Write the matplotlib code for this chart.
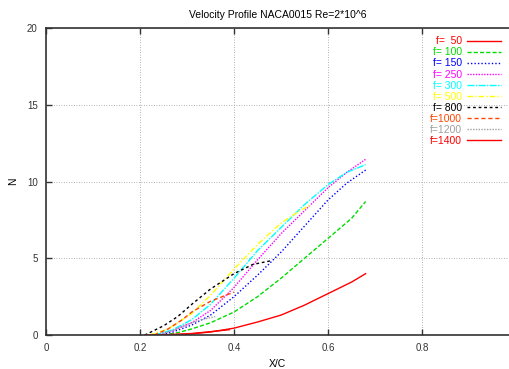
import matplotlib
matplotlib.use("Agg")
from matplotlib import pyplot as plt

# values (X/C, N)
labels = ["f=  50", "f= 100", "f= 150", "f= 250", "f= 300",
          "f= 500", "f= 800", "f=1000", "f=1200", "f=1400"]
colors = ["#ff0000", "#00dd00", "#0000ff", "#ff00ff", "#00ffff",
          "#ffff00", "#000000", "#ff4500", "#a0a0a0", "#ff0000"]
styles = ["-", (0, (3, 1.5)), (0, (1, 1.5)), (0, (1, 1)), (0, (5, 1, 1, 1)),
          (0, (4, 1.5, 1, 1.5)), (0, (2, 2)), (0, (3, 2)), (0, (1, 1)), "-"]

x50 = [0.25, 0.30, 0.35, 0.40, 0.45, 0.50, 0.55, 0.60, 0.65, 0.68]
y50 = [0.0, 0.05, 0.2, 0.45, 0.85, 1.3, 1.95, 2.7, 3.45, 4.0]
x100 = [0.25, 0.28, 0.31, 0.35, 0.40, 0.45, 0.50, 0.55, 0.60, 0.65, 0.68]
y100 = [0.0, 0.15, 0.4, 0.8, 1.5, 2.5, 3.7, 5.0, 6.3, 7.6, 8.7]
x150 = [0.24, 0.27, 0.31, 0.35, 0.40, 0.45, 0.50, 0.55, 0.60, 0.64, 0.68]
y150 = [0.0, 0.2, 0.65, 1.3, 2.5, 3.9, 5.4, 7.1, 8.8, 9.9, 10.75]
x250 = [0.23, 0.27, 0.31, 0.35, 0.40, 0.45, 0.50, 0.55, 0.60, 0.64, 0.68]
y250 = [0.0, 0.3, 0.8, 1.6, 3.1, 4.9, 6.6, 8.1, 9.6, 10.6, 11.45]
x300 = [0.23, 0.27, 0.31, 0.35, 0.40, 0.45, 0.50, 0.55, 0.60, 0.64, 0.68]
y300 = [0.0, 0.35, 1.0, 2.0, 3.7, 5.5, 7.0, 8.5, 9.8, 10.6, 11.1]
x500 = [0.22, 0.26, 0.31, 0.35, 0.40, 0.45, 0.50, 0.54, 0.565]
y500 = [0.0, 0.4, 1.4, 2.6, 4.3, 5.9, 7.3, 8.1, 8.5]
x800 = [0.21, 0.25, 0.28, 0.31, 0.35, 0.40, 0.44, 0.48]
y800 = [0.0, 0.6, 1.2, 2.0, 3.0, 4.0, 4.6, 4.85]
x1000 = [0.23, 0.26, 0.29, 0.31, 0.35, 0.40]
y1000 = [0.0, 0.4, 1.0, 1.5, 2.2, 2.8]
x1200 = [0.24, 0.27, 0.30, 0.33, 0.36]
y1200 = [0.0, 0.3, 0.7, 1.0, 1.2]
x1400 = [0.21, 0.26, 0.31, 0.36, 0.39]
y1400 = [0.0, 0.03, 0.1, 0.25, 0.35]

xs = [x50, x100, x150, x250, x300, x500, x800, x1000, x1200, x1400]
ys = [y50, y100, y150, y250, y300, y500, y800, y1000, y1200, y1400]

plt.rcParams["font.family"] = ["Liberation Sans", "DejaVu Sans"]
fig = plt.figure(figsize=(5.09, 3.69), dpi=100)
ax = fig.add_axes([0.0904, 0.092, 0.9096, 0.832])

for x, y, lab, c, ls in zip(xs, ys, labels, colors, styles):
    ax.plot(x, y, color=c, linestyle=ls, linewidth=1.0, label=lab)

ax.set_xlim(0, 0.985)
ax.set_ylim(0, 20)
ax.set_xticks([0, 0.2, 0.4, 0.6, 0.8])
ax.set_xticklabels(["0", "0.2", "0.4", "0.6", "0.8"])
ax.set_yticks([0, 5, 10, 15, 20])
ax.tick_params(direction="in", length=4, width=1, labelsize=7, colors="#333333",
               top=True, right=False, pad=6)
ax.grid(True, color="#999999", linestyle=(0, (1, 2)), linewidth=0.6)
for side in ["left", "bottom", "top"]:
    ax.spines[side].set_color("#333333")
    ax.spines[side].set_linewidth(1.2)
ax.spines["right"].set_visible(False)

ax.set_title("Velocity Profile NACA0015 Re=2*10^6", fontsize=7.5, pad=7)
ax.set_xlabel("X/C", fontsize=7.5, labelpad=4)
ax.set_ylabel("N", fontsize=7.5, labelpad=6)

leg = ax.legend(loc="upper right", frameon=False, markerfirst=False, fontsize=7.5,
                labelcolor="linecolor", handlelength=3.2, handletextpad=0.5,
                labelspacing=0.1, borderaxespad=0.4)

fig.savefig("out.png", dpi=100)
